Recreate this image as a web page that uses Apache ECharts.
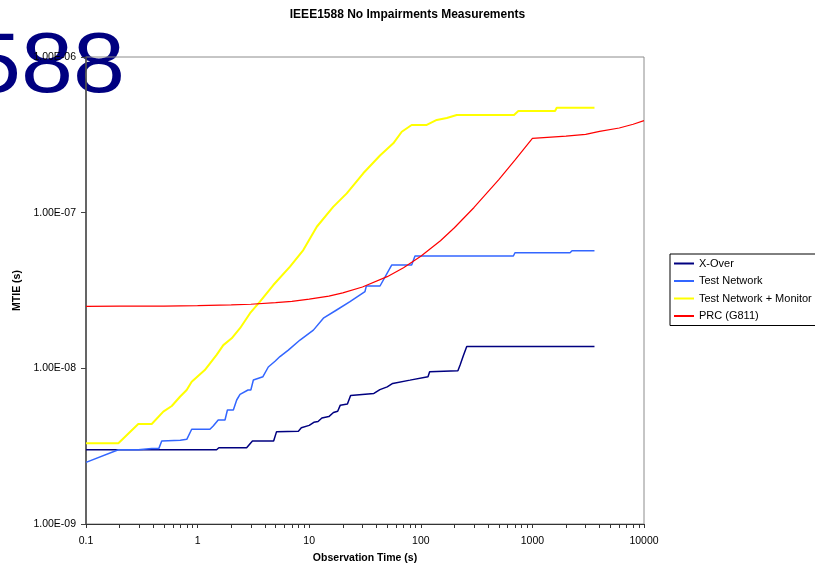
<!DOCTYPE html>
<html>
<head>
<meta charset="utf-8">
<script src="https://cdn.jsdelivr.net/npm/echarts@6/dist/echarts.min.js"></script>
<style>
html,body{margin:0;padding:0;background:#fff;}
#chart{width:815px;height:567px;}
</style>
</head>
<body>
<div id="chart"></div>
<script>
// ---- data ----
const chartTitle = 'IEEE1588 No Impairments Measurements';
const xName = 'Observation Time (s)';
const yName = 'MTIE (s)';
const seriesNames = ['X-Over', 'Test Network', 'Test Network + Monitor', 'PRC (G811)'];
const xTickLabels = [0.1, 1, 10, 100, 1000, 10000];
const yTickLabels = [1e-9, 1e-8, 1e-7, 1e-6];

const xoverT = [0.1, 1.48, 1.55, 2.75, 3.1, 4.8, 5.1, 8.0, 8.5, 10, 11, 12, 13, 15, 16.5, 18, 19, 22, 23.5, 38, 43, 50, 56, 80, 116, 120, 215, 225, 240, 258, 3600];
const xoverV = [3.0e-9, 3.0e-9, 3.09e-9, 3.09e-9, 3.41e-9, 3.41e-9, 3.92e-9, 3.95e-9, 4.15e-9, 4.3e-9, 4.5e-9, 4.55e-9, 4.8e-9, 4.9e-9, 5.2e-9, 5.3e-9, 5.8e-9, 5.9e-9, 6.7e-9, 6.9e-9, 7.3e-9, 7.6e-9, 8.0e-9, 8.4e-9, 8.84e-9, 9.5e-9, 9.66e-9, 1.05e-8, 1.2e-8, 1.38e-8, 1.38e-8];

const testT = [0.1, 0.195, 0.294, 0.388, 0.45, 0.477, 0.7, 0.8, 0.885, 1.29, 1.38, 1.53, 1.76, 1.85, 2.09, 2.24, 2.4, 2.83, 3.0, 3.16, 3.85, 4.3, 4.94, 5.47, 6.5, 8.27, 10.9, 13.4, 17.6, 23.2, 31.6, 32.5, 43.1, 54.8, 82.8, 88.7, 675, 698, 2173, 2265, 3600];
const testV = [2.49e-9, 3.0e-9, 3.0e-9, 3.06e-9, 3.06e-9, 3.41e-9, 3.45e-9, 3.5e-9, 4.06e-9, 4.06e-9, 4.26e-9, 4.66e-9, 4.66e-9, 5.4e-9, 5.4e-9, 6.26e-9, 6.81e-9, 7.26e-9, 7.26e-9, 8.41e-9, 8.84e-9, 1.02e-8, 1.11e-8, 1.19e-8, 1.31e-8, 1.52e-8, 1.76e-8, 2.1e-8, 2.37e-8, 2.68e-8, 3.11e-8, 3.38e-8, 3.38e-8, 4.61e-8, 4.61e-8, 5.27e-8, 5.27e-8, 5.53e-8, 5.53e-8, 5.7e-8, 5.7e-8];

const monT = [0.1, 0.195, 0.294, 0.388, 0.493, 0.587, 0.695, 0.798, 0.885, 1.16, 1.48, 1.7, 2.02, 2.4, 2.95, 3.62, 4.77, 6.73, 8.85, 11.7, 16.4, 21.7, 30.5, 43.1, 56.7, 67.5, 82.8, 113, 139, 171, 210, 685, 748, 1596, 1652, 3600];
const monV = [3.3e-9, 3.3e-9, 4.39e-9, 4.39e-9, 5.27e-9, 5.73e-9, 6.57e-9, 7.26e-9, 8.2e-9, 9.75e-9, 1.22e-8, 1.41e-8, 1.56e-8, 1.81e-8, 2.26e-8, 2.68e-8, 3.43e-8, 4.5e-8, 5.75e-8, 8.12e-8, 1.09e-7, 1.33e-7, 1.79e-7, 2.33e-7, 2.79e-7, 3.31e-7, 3.66e-7, 3.66e-7, 3.94e-7, 4.06e-7, 4.24e-7, 4.24e-7, 4.5e-7, 4.5e-7, 4.72e-7, 4.72e-7];

const prcT = [0.1, 0.2, 0.5, 1, 2, 3, 5, 7, 10, 15, 20, 30, 50, 70, 100, 150, 200, 300, 500, 700, 1000, 2000, 3000, 4000, 6000, 8000, 10000];
const prcV = [2.5e-8, 2.51e-8, 2.51e-8, 2.53e-8, 2.56e-8, 2.58e-8, 2.64e-8, 2.69e-8, 2.78e-8, 2.91e-8, 3.05e-8, 3.33e-8, 3.88e-8, 4.43e-8, 5.25e-8, 6.6e-8, 8.0e-8, 1.08e-7, 1.63e-7, 2.18e-7, 3.0e-7, 3.1e-7, 3.18e-7, 3.33e-7, 3.5e-7, 3.7e-7, 3.9e-7];

// ---- build ----
const FONT = '"Liberation Sans", Arial, sans-serif';
function pairs(t, v) { return t.map((x, i) => [x, v[i]]); }
function fmtY(v) {
  const s = Number(v).toExponential(2).toUpperCase();
  return s.replace(/E([+-])(\d+)$/, (m, sign, d) => 'E' + sign + (d.length < 2 ? '0' + d : d));
}
function fmtX(v) { return String(Number(Number(v).toPrecision(6))); }

// minor+major tick positions on the log x axis
const xTicks = [];
for (let i = 0; i < xTickLabels.length; i++) {
  const dec = xTickLabels[i];
  if (i === xTickLabels.length - 1) { xTicks.push(dec); break; }
  for (let k = 1; k <= 9; k++) xTicks.push(Number((dec * k).toPrecision(6)));
}

const colors = ['#000080', '#3366FF', '#FFFF00', '#FF0000'];
const widths = [1.5, 1.5, 2, 1.2];
const dataSets = [pairs(xoverT, xoverV), pairs(testT, testV), pairs(monT, monV), pairs(prcT, prcV)];

const chart = echarts.init(document.getElementById('chart'), null, { renderer: 'canvas' });
chart.setOption({
  animation: false,
  backgroundColor: '#fff',
  textStyle: { fontFamily: FONT },
  title: {
    text: chartTitle,
    left: 'center',
    top: 9,
    padding: 0,
    textStyle: { fontFamily: FONT, fontSize: 12, fontWeight: 'bold', color: '#000' }
  },
  graphic: [{
    type: 'text',
    z: -1,
    x: 125,
    y: 69,
    scaleX: 1.1,
    style: { text: '588', font: '85px "Liberation Sans", Arial, sans-serif', fill: '#000080', align: 'right', verticalAlign: 'middle' }
  }],
  legend: {
    orient: 'vertical',
    left: 670,
    top: 254,
    itemWidth: 20,
    itemHeight: 12,
    itemGap: 6.5,
    padding: [4, 40, 4, 3],
    borderColor: '#000',
    borderWidth: 1,
    backgroundColor: '#fff',
    data: seriesNames,
    itemStyle: { opacity: 0 },
    textStyle: { fontFamily: FONT, fontSize: 11, color: '#000' }
  },
  grid: {
    left: 86, top: 57, width: 558, height: 467,
    show: true, borderColor: '#8c8c8c', borderWidth: 1,
    containLabel: false, outerBoundsMode: 'none'
  },
  xAxis: {
    type: 'log', logBase: 10, min: 0.1, max: 10000,
    name: xName, nameLocation: 'middle', nameGap: 29,
    nameTextStyle: { fontFamily: FONT, fontSize: 10.5, fontWeight: 'bold', color: '#000' },
    axisLine: { show: true, lineStyle: { color: '#333', width: 1 } },
    axisTick: { show: true, inside: false, length: 4, customValues: xTicks, lineStyle: { color: '#333' } },
    axisLabel: { customValues: xTickLabels, formatter: fmtX, margin: 12, fontFamily: FONT, fontSize: 10.5, color: '#000' },
    splitLine: { show: false },
    minorTick: { show: false }
  },
  yAxis: {
    type: 'log', logBase: 10, min: 1e-9, max: 1e-6,
    name: yName, nameLocation: 'middle', nameGap: 63, nameRotate: 90,
    nameTextStyle: { fontFamily: FONT, fontSize: 10.5, fontWeight: 'bold', color: '#000' },
    axisLine: { show: true, lineStyle: { color: '#444', width: 1.5 } },
    axisTick: { show: true, inside: false, length: 5, lineStyle: { color: '#444' } },
    axisLabel: { customValues: yTickLabels, formatter: fmtY, margin: 10, fontFamily: FONT, fontSize: 10.5, color: '#000' },
    splitLine: { show: false }
  },
  series: seriesNames.map((n, i) => ({
    name: n,
    type: 'line',
    data: dataSets[i],
    symbol: 'none',
    showSymbol: false,
    lineStyle: { color: colors[i], width: widths[i] },
    itemStyle: { color: colors[i] },
    z: 2 + i
  }))
});
</script>
</body>
</html>
